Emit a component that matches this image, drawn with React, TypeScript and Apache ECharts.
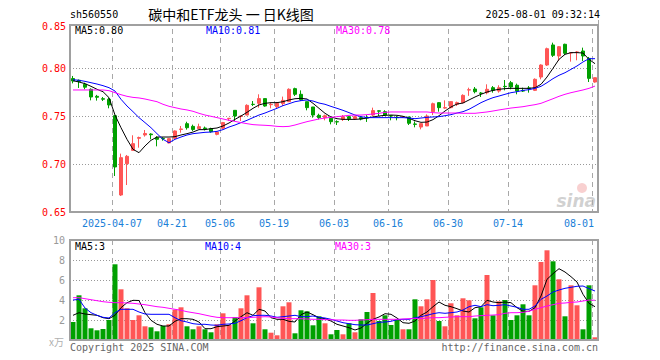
import React, { useEffect, useRef } from 'react';
import * as echarts from 'echarts';

const dates = [
  '2025-03-26','2025-03-27','2025-03-28','2025-03-31','2025-04-01','2025-04-02','2025-04-03','2025-04-07','2025-04-08','2025-04-09',
  '2025-04-10','2025-04-11','2025-04-14','2025-04-15','2025-04-16','2025-04-17','2025-04-18','2025-04-21','2025-04-22','2025-04-23',
  '2025-04-24','2025-04-25','2025-04-28','2025-04-29','2025-04-30','2025-05-06','2025-05-07','2025-05-08','2025-05-09','2025-05-12',
  '2025-05-13','2025-05-14','2025-05-15','2025-05-16','2025-05-19','2025-05-20','2025-05-21','2025-05-22','2025-05-23','2025-05-26',
  '2025-05-27','2025-05-28','2025-05-29','2025-05-30','2025-06-03','2025-06-04','2025-06-05','2025-06-06','2025-06-09','2025-06-10',
  '2025-06-11','2025-06-12','2025-06-13','2025-06-16','2025-06-17','2025-06-18','2025-06-19','2025-06-20','2025-06-23','2025-06-24',
  '2025-06-25','2025-06-26','2025-06-27','2025-06-30','2025-07-01','2025-07-02','2025-07-03','2025-07-04','2025-07-07','2025-07-08',
  '2025-07-09','2025-07-10','2025-07-11','2025-07-14','2025-07-15','2025-07-16','2025-07-17','2025-07-18','2025-07-21','2025-07-22',
  '2025-07-23','2025-07-24','2025-07-25','2025-07-28','2025-07-29','2025-07-30','2025-07-31','2025-08-01'
];

const opens = [
  0.789,0.7872,0.783,0.7778,0.7705,0.768,0.7674,0.7503,0.6677,0.7003,
  0.7142,0.7268,0.7302,0.7312,0.7274,0.7267,0.7219,0.7267,0.736,0.742,
  0.7392,0.7368,0.7375,0.7368,0.7309,0.7372,0.7472,0.7559,0.7496,0.751,
  0.7622,0.7632,0.7681,0.7618,0.7597,0.7629,0.7649,0.7785,0.7726,0.7649,
  0.7594,0.7507,0.7483,0.7476,0.7441,0.7465,0.7493,0.7472,0.7483,0.7483,
  0.751,0.7554,0.7545,0.7503,0.7486,0.749,0.749,0.7417,0.7385,0.7396,
  0.7545,0.7639,0.7583,0.7587,0.7622,0.7639,0.777,0.7781,0.7739,0.7743,
  0.7795,0.776,0.7809,0.7847,0.782,0.7764,0.7792,0.7767,0.7906,0.8031,
  0.824,0.8125,0.8247,0.8156,0.8163,0.8177,0.81,0.7854
];
const closes = [
  0.7865,0.786,0.78,0.7698,0.7695,0.7675,0.7615,0.6969,0.7066,0.708,
  0.7212,0.7275,0.7318,0.7305,0.7257,0.7264,0.7264,0.7344,0.7365,0.7378,
  0.736,0.7389,0.7368,0.7337,0.7333,0.7431,0.7476,0.75,0.75,0.7611,
  0.762,0.7681,0.7604,0.7622,0.7632,0.7663,0.7778,0.7726,0.767,0.7587,
  0.751,0.7483,0.7503,0.7441,0.7438,0.7493,0.7472,0.7493,0.7469,0.748,
  0.7556,0.755,0.751,0.75,0.7483,0.7493,0.7424,0.7413,0.742,0.75,
  0.7628,0.7587,0.7587,0.765,0.7639,0.7715,0.7774,0.7753,0.7736,0.7778,
  0.7767,0.7795,0.7806,0.7802,0.776,0.776,0.7788,0.7882,0.8031,0.8201,
  0.8132,0.8222,0.8153,0.816,0.8167,0.8125,0.7892,0.7899
];
const lows = [
  0.784,0.7792,0.7778,0.7663,0.766,0.7656,0.758,0.6875,0.6667,0.6781,
  0.714,0.717,0.7285,0.7257,0.7184,0.7243,0.7215,0.7257,0.7326,0.7358,
  0.7344,0.7368,0.735,0.7326,0.7299,0.7361,0.745,0.7448,0.7448,0.7507,
  0.7604,0.7587,0.7597,0.758,0.758,0.7604,0.7649,0.7708,0.7656,0.7559,
  0.7483,0.7465,0.7455,0.7413,0.7406,0.7448,0.7448,0.7462,0.7455,0.7438,
  0.75,0.75,0.75,0.7455,0.7455,0.7479,0.7406,0.7382,0.7361,0.7396,
  0.751,0.7545,0.7576,0.758,0.7604,0.7632,0.771,0.7736,0.7698,0.7726,
  0.7743,0.7743,0.7767,0.7778,0.7726,0.775,0.7743,0.776,0.7882,0.8021,
  0.8115,0.8073,0.8135,0.8066,0.808,0.8073,0.7854,0.7847
];
const highs = [
  0.7917,0.788,0.7847,0.7788,0.772,0.7698,0.769,0.751,0.7108,0.7094,
  0.7299,0.7285,0.7354,0.732,0.729,0.7278,0.7267,0.735,0.7396,0.744,
  0.741,0.742,0.739,0.7378,0.7337,0.7438,0.748,0.756,0.7503,0.7622,
  0.7656,0.7726,0.7681,0.764,0.7646,0.7702,0.7788,0.7795,0.7767,0.765,
  0.7594,0.7524,0.7514,0.7483,0.7455,0.751,0.75,0.75,0.75,0.751,
  0.7587,0.756,0.756,0.751,0.75,0.75,0.749,0.7444,0.7424,0.7517,
  0.7639,0.7642,0.7663,0.765,0.765,0.7726,0.7795,0.7802,0.775,0.783,
  0.7812,0.782,0.7875,0.7865,0.7837,0.7795,0.7812,0.7892,0.8038,0.8212,
  0.8264,0.8229,0.8253,0.816,0.8177,0.8212,0.8115,0.79
];

const ma5 = [
  0.7868,0.7854,0.7837,0.7809,0.7778,0.7753,0.7691,0.751,0.7378,0.7257,
  0.7153,0.7118,0.7188,0.7247,0.7281,0.7281,0.7281,0.7285,0.7302,0.7316,
  0.7333,0.7358,0.7358,0.7368,0.7375,0.7396,0.7427,0.7465,0.75,0.7538,
  0.758,0.7615,0.7632,0.7639,0.7639,0.7649,0.7667,0.768,0.7684,0.7677,
  0.7632,0.758,0.7528,0.749,0.7472,0.7465,0.7465,0.7465,0.7469,0.7479,
  0.749,0.75,0.7507,0.751,0.7507,0.7497,0.7476,0.7451,0.7434,0.7437,
  0.7462,0.7503,0.7552,0.7594,0.7625,0.7635,0.7667,0.7698,0.7726,0.775,
  0.7767,0.7778,0.7785,0.7788,0.7788,0.7788,0.7788,0.7795,0.783,0.7906,
  0.7997,0.809,0.8142,0.816,0.816,0.8156,0.809,0.8045
];
const ma10 = [
  0.7878,0.7872,0.7861,0.7847,0.7833,0.7816,0.7795,0.776,0.7674,0.7604,
  0.7545,0.7483,0.7431,0.7378,0.7316,0.7257,0.7222,0.7257,0.7281,0.7302,
  0.7316,0.7323,0.733,0.7333,0.734,0.7358,0.7385,0.7406,0.7431,0.7455,
  0.7483,0.751,0.7531,0.7556,0.758,0.7608,0.7628,0.7649,0.766,0.7667,
  0.7656,0.7635,0.7622,0.76,0.758,0.7559,0.7535,0.751,0.7493,0.7483,
  0.7483,0.7483,0.7483,0.7483,0.7483,0.7483,0.7479,0.7472,0.7479,0.7486,
  0.749,0.7493,0.7503,0.7514,0.7531,0.7545,0.757,0.7604,0.7639,0.7667,
  0.7691,0.7708,0.7726,0.7743,0.7753,0.7767,0.7774,0.7788,0.7809,0.7847,
  0.7889,0.7924,0.7951,0.7986,0.8021,0.8063,0.8097,0.8097
];
const ma30 = [
  0.7771,0.7771,0.7771,0.7771,0.7771,0.7771,0.7764,0.7743,0.7722,0.7705,
  0.7694,0.7688,0.7677,0.7663,0.7649,0.7622,0.7601,0.7587,0.7573,0.7563,
  0.7549,0.7528,0.751,0.7497,0.7483,0.7469,0.7455,0.7444,0.7431,0.742,
  0.741,0.7406,0.7403,0.7399,0.7392,0.7389,0.7392,0.7406,0.7424,0.7441,
  0.7455,0.7469,0.7479,0.7486,0.7493,0.75,0.7507,0.751,0.751,0.7514,
  0.7521,0.7528,0.7538,0.7542,0.7542,0.7542,0.7542,0.7542,0.7542,0.7542,
  0.7535,0.7531,0.7531,0.7531,0.7531,0.7528,0.7528,0.7528,0.7535,0.7542,
  0.7552,0.7563,0.7573,0.7583,0.759,0.7597,0.7608,0.7618,0.7632,0.7656,
  0.768,0.7705,0.7726,0.7743,0.7757,0.7771,0.7788,0.7812
];

const volumes = [
  1.8,4.47,3.17,1.17,0.97,1.1,2.0,7.57,5.07,3.17,
  2.0,2.47,1.37,1.27,0.87,1.4,1.57,3.03,3.27,1.37,
  1.07,1.37,1.07,0.77,1.57,2.67,1.5,2.27,3.17,4.47,
  1.67,5.27,1.07,0.73,0.47,3.37,3.77,0.67,2.97,2.87,
  1.47,2.37,1.67,0.57,1.0,0.57,1.67,0.77,2.07,2.8,
  4.7,1.9,2.47,1.5,2.07,1.07,1.07,4.07,3.37,4.07,
  6.0,1.9,1.37,3.67,2.47,4.17,3.97,2.17,3.27,6.5,
  2.47,3.87,4.0,2.0,2.47,3.57,2.47,5.47,7.8,8.97,
  7.87,6.07,2.37,5.47,3.47,1.07,5.47,0.27
];
const volMa5 = [
  2.47,2.73,2.6,2.53,2.47,2.23,2.13,2.47,3.23,3.73,
  3.97,3.95,2.73,1.97,1.57,1.4,1.4,1.87,2.13,2.13,
  2.07,1.8,1.13,1.13,1.33,1.4,1.47,1.9,2.33,2.73,
  2.47,3.07,2.9,2.23,2.07,2.07,1.87,1.8,2.53,2.8,
  2.53,2.23,2.13,1.9,1.57,1.4,1.23,1.0,1.2,1.67,
  2.07,2.3,2.63,2.57,2.2,1.73,1.67,1.9,2.47,2.8,
  3.33,3.8,3.47,3.33,3.13,2.9,2.8,3.23,3.33,3.97,
  3.8,3.73,3.8,3.73,3.23,2.87,2.87,3.23,4.4,6.07,
  6.63,7.13,6.8,6.33,5.8,4.57,3.67,3.33
];
const volMa10 = [
  4.0,4.07,3.2,2.73,2.47,2.27,2.2,2.73,3.07,3.07,
  3.07,2.8,2.6,2.57,2.57,2.57,2.57,2.23,1.93,1.8,
  1.63,1.57,1.57,1.5,1.47,1.57,1.6,1.67,1.93,2.23,
  2.43,2.47,2.47,2.4,2.27,2.33,2.4,2.47,2.33,2.33,
  2.4,2.27,2.2,2.07,1.9,1.73,1.63,1.53,1.5,1.5,
  1.63,1.77,1.8,1.87,2.03,2.07,2.07,2.23,2.33,2.47,
  2.63,2.73,2.67,2.73,2.8,3.0,3.33,3.47,3.33,3.53,
  3.43,3.47,3.53,3.4,3.27,3.07,3.07,3.4,4.07,4.4,
  4.8,5.0,5.17,5.27,5.37,5.4,5.13,4.9
];
const volMa30 = [
  4.23,4.23,4.13,4.03,3.93,3.83,3.77,3.73,3.73,3.7,
  3.67,3.6,3.53,3.43,3.33,3.27,3.17,3.07,2.97,2.83,
  2.73,2.63,2.5,2.37,2.27,2.23,2.23,2.23,2.23,2.23,
  2.27,2.3,2.33,2.3,2.23,2.17,2.13,2.13,2.13,2.1,
  2.07,2.07,2.03,2.03,2.0,2.0,1.97,1.97,2.0,2.03,
  2.07,2.07,2.07,2.07,2.07,2.1,2.13,2.17,2.13,2.2,
  2.23,2.23,2.27,2.3,2.33,2.33,2.33,2.4,2.43,2.47,
  2.5,2.53,2.67,2.73,2.73,2.77,2.87,3.07,3.23,3.4,
  3.53,3.67,3.7,3.77,3.8,3.9,4.0,3.97
];

const labelIdx = [7, 17, 25, 34, 44, 53, 63, 73, 87];
const stockCode = 'sh560550';
const title = '碳中和ETF龙头 一 日K线图';
const stamp = '2025-08-01 09:32:14';

const RED = '#ff5555';
const GREEN = '#00a000';
const MONO = "'DejaVu Sans Mono', 'Liberation Mono', monospace";
const DATE_BLUE = '#1a80d8';
const PRICE_MAX = 0.85;

export default function App() {
  const ref = useRef<HTMLDivElement>(null);
  useEffect(() => {
    const chart = echarts.init(ref.current as HTMLDivElement, null, { renderer: 'svg' });
    const last = dates.length - 1;
    const splitX = {
      show: true,
      interval: (i: number) => labelIdx.includes(i),
      lineStyle: { color: '#a8a8a8', type: [5, 4] as any, width: 1 },
    };
    const dotted = { color: '#999', type: [1, 2] as any, width: 1 };
    const txt = (x: number, y: number, text: string, fill: string, align: string, font: string) => ({
      type: 'text', x, y, z: 120,
      style: { text, fill, font, textAlign: align, align, textVerticalAlign: 'middle', verticalAlign: 'middle' },
    });
    const priceLabel = { color: '#ff0000', fontFamily: MONO, fontSize: 10 };
    const option: any = {
      animation: false,
      grid: [
        { left: 70, top: 20, width: 528, height: 192 },
        { left: 70, top: 240, width: 528, height: 100 },
      ],
      xAxis: [
        {
          type: 'category', gridIndex: 0, data: dates, boundaryGap: true,
          axisLine: { show: false }, axisTick: { show: false },
          axisLabel: {
            show: true, margin: 6,
            interval: (i: number) => labelIdx.includes(i),
            formatter: (v: string, i: number) =>
              i === last ? '{b|' + v.slice(5) + '}' : i === labelIdx[0] ? '{a|' + v + '}' : '{a|' + v.slice(5) + '}',
            rich: {
              a: { color: DATE_BLUE, fontFamily: MONO, fontSize: 10, padding: [0, 6, 0, 0] },
              b: { color: DATE_BLUE, fontFamily: MONO, fontSize: 10, padding: [0, 32, 0, 0] },
            },
          },
          splitLine: splitX,
        },
        {
          type: 'category', gridIndex: 1, data: dates, boundaryGap: true,
          axisLine: { show: false }, axisTick: { show: false }, axisLabel: { show: false },
          splitLine: splitX,
        },
      ],
      yAxis: [
        {
          type: 'value', gridIndex: 0, min: 0.65, max: PRICE_MAX, interval: 0.05,
          axisLine: { show: false }, axisTick: { show: false },
          axisLabel: {
            margin: 4,
            formatter: (v: number) => (Math.abs(v - PRICE_MAX) < 1e-6 ? '{t|' + v.toFixed(2) + '}' : '{n|' + v.toFixed(2) + '}'),
            rich: { n: priceLabel, t: { ...priceLabel, padding: [12, 0, 0, 0] } },
          },
          splitLine: { show: true, showMinLine: false, showMaxLine: false, lineStyle: dotted },
        },
        {
          type: 'value', gridIndex: 1, min: 0, max: 10, interval: 2,
          axisLine: { show: false }, axisTick: { show: false },
          axisLabel: { color: '#999', fontFamily: MONO, fontSize: 10, margin: 5, formatter: (v: number) => (v === 0 ? '' : String(v)) },
          splitLine: { show: true, showMinLine: false, showMaxLine: false, lineStyle: dotted },
        },
      ],
      series: [
        {
          type: 'candlestick', xAxisIndex: 0, yAxisIndex: 0, barWidth: 4,
          data: dates.map((_, i) => [opens[i], closes[i], lows[i], highs[i]]),
          itemStyle: { color: RED, color0: GREEN, borderColor: RED, borderColor0: GREEN, borderWidth: 1 },
        },
        { type: 'line', xAxisIndex: 0, yAxisIndex: 0, data: ma5, symbol: 'none', lineStyle: { color: '#000', width: 1 } },
        { type: 'line', xAxisIndex: 0, yAxisIndex: 0, data: ma10, symbol: 'none', lineStyle: { color: '#0000ff', width: 1 } },
        { type: 'line', xAxisIndex: 0, yAxisIndex: 0, data: ma30, symbol: 'none', lineStyle: { color: '#ff00ff', width: 1 } },
        {
          type: 'bar', xAxisIndex: 1, yAxisIndex: 1, barWidth: 5,
          data: volumes.map((v, i) => ({ value: v, itemStyle: { color: closes[i] >= opens[i] ? RED : GREEN } })),
        },
        { type: 'line', xAxisIndex: 1, yAxisIndex: 1, data: volMa5, symbol: 'none', lineStyle: { color: '#000', width: 1 } },
        { type: 'line', xAxisIndex: 1, yAxisIndex: 1, data: volMa10, symbol: 'none', lineStyle: { color: '#0000ff', width: 1 } },
        { type: 'line', xAxisIndex: 1, yAxisIndex: 1, data: volMa30, symbol: 'none', lineStyle: { color: '#ff00ff', width: 1 } },
      ],
      graphic: {
        elements: [
          { type: 'rect', z: 100, shape: { x: 71, y: 15, width: 526, height: 9.5 }, style: { fill: '#fff' } },
          { type: 'rect', z: 110, shape: { x: 70, y: 25, width: 528, height: 187 }, style: { fill: 'none', stroke: '#a0a0a0', lineWidth: 2 } },
          { type: 'rect', z: 110, shape: { x: 70, y: 240, width: 528, height: 100 }, style: { fill: 'none', stroke: '#a0a0a0', lineWidth: 2 } },
          txt(70, 14, stockCode, '#000', 'left', `10px ${MONO}`),
          txt(231, 14, title, '#000', 'center', "14px 'Noto Sans CJK SC', sans-serif"),
          txt(600, 14, stamp, '#000', 'right', `10px ${MONO}`),
          txt(75, 30, 'MA5:' + ma5[last].toFixed(2), '#000', 'left', `10px ${MONO}`),
          txt(206, 30, 'MA10:' + ma10[last].toFixed(2), '#0000ff', 'left', `10px ${MONO}`),
          txt(336, 30, 'MA30:' + ma30[last].toFixed(2), '#ff00ff', 'left', `10px ${MONO}`),
          txt(75, 246, 'MA5:' + Math.floor(volMa5[last]), '#000', 'left', `10px ${MONO}`),
          txt(205, 246, 'MA10:' + Math.floor(volMa10[last]), '#0000ff', 'left', `10px ${MONO}`),
          txt(335, 246, 'MA30:' + Math.floor(volMa30[last]), '#ff00ff', 'left', `10px ${MONO}`),
          txt(64, 341, 'x万', '#b0b0b0', 'right', "10px 'Noto Sans CJK SC', sans-serif"),
          txt(70, 347, 'Copyright 2025 SINA.COM', '#666', 'left', `10px ${MONO}`),
          txt(598, 347, 'http://finance.sina.com.cn', '#666', 'right', `10px ${MONO}`),
          { type: 'circle', z: 1, shape: { cx: 582, cy: 188, r: 5 }, style: { fill: 'rgba(235,120,120,0.35)' } },
          txt(596, 201, 'sina', 'rgba(170,170,170,0.55)', 'right', "italic bold 17px 'DejaVu Sans', sans-serif"),
        ],
      },
    };
    chart.setOption(option);
    return () => chart.dispose();
  }, []);
  return <div ref={ref} style={{ position: 'fixed', left: 0, top: 0, width: 660, height: 360, background: '#fff' }} />;
}
